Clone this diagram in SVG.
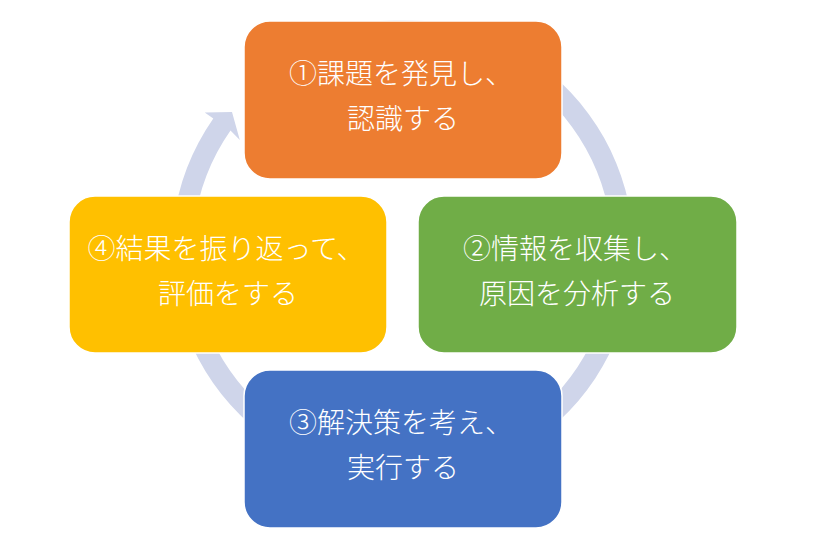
<svg xmlns="http://www.w3.org/2000/svg" width="813" height="552" viewBox="0 0 813 552">
  <style>
    .box { stroke: #FFFFFF; stroke-width: 1.5; }
    .lbl { fill: #FFFFFF; font-family: "Noto Sans CJK JP", "Noto Sans CJK SC", sans-serif; font-size: 28px; font-weight: 300; text-anchor: middle; }
  </style>
  <rect width="813" height="552" fill="#FFFFFF"/>
  <g id="connectors">
    <path id="cycle-arrow" fill="#CFD5EA" d="M 287 50.9 A 231 231 0 1 1 213.3 118.5 L 204.7 112.5 L 232 112 L 239.8 140 L 230.5 130.5 A 210 210 0 1 0 297.5 69.1 Z"/>
  </g>
  <g id="node1">
    <rect class="box" x="244" y="21" width="318" height="158" rx="26" fill="#ED7D31"/>
    <text class="lbl" x="401" y="84">①課題を発見し、</text>
    <text class="lbl" x="403" y="129">認識する</text>
  </g>
  <g id="node2">
    <rect class="box" x="418" y="196" width="319" height="157" rx="26" fill="#70AD47"/>
    <text class="lbl" x="575" y="259">②情報を収集し、</text>
    <text class="lbl" x="577" y="304">原因を分析する</text>
  </g>
  <g id="node3">
    <rect class="box" x="244" y="370" width="318" height="158" rx="26" fill="#4472C4"/>
    <text class="lbl" x="401" y="433">③解決策を考え、</text>
    <text class="lbl" x="403" y="478">実行する</text>
  </g>
  <g id="node4">
    <rect class="box" x="69" y="196" width="318" height="157" rx="26" fill="#FFC000"/>
    <text class="lbl" x="226" y="259">④結果を振り返って、</text>
    <text class="lbl" x="228" y="304">評価をする</text>
  </g>
</svg>
